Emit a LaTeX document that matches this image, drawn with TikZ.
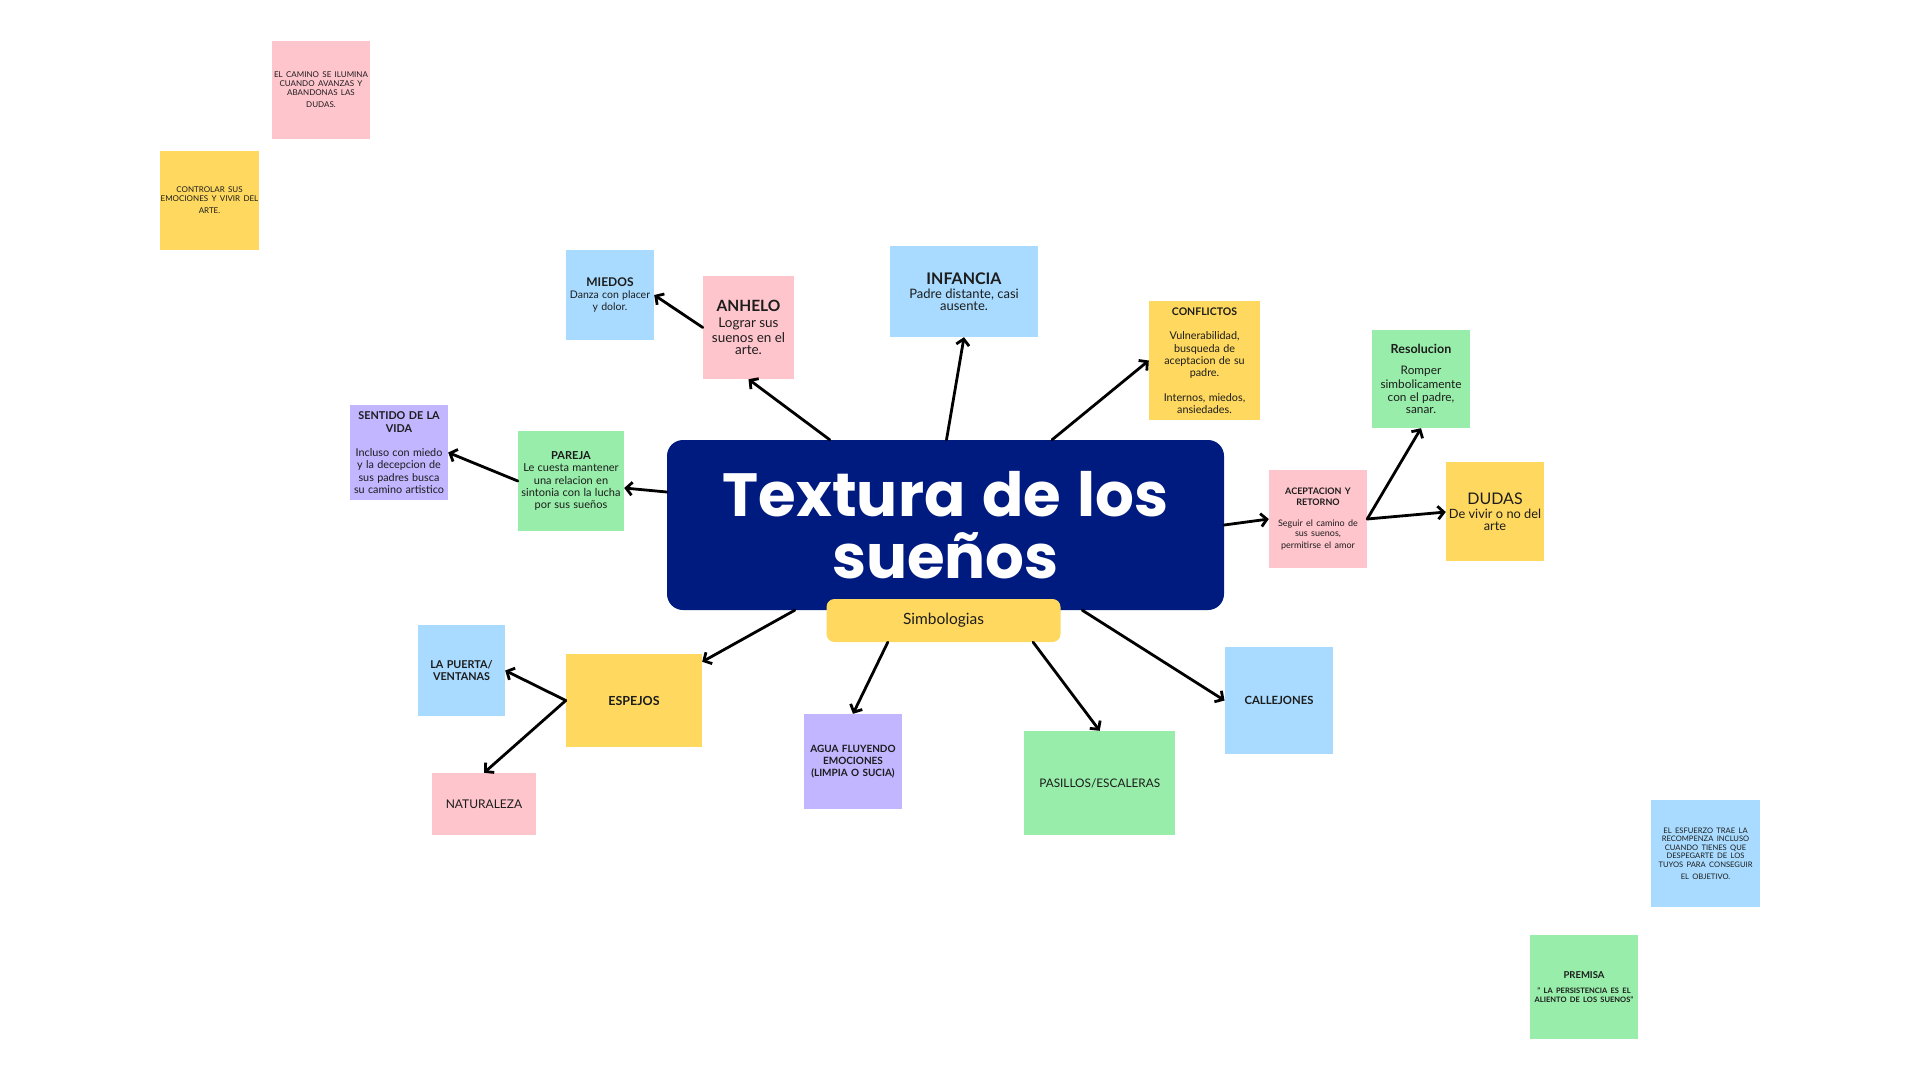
\documentclass[tikz,border=0pt]{standalone}
\usepackage{fontspec}
\setmainfont{Lato}
\newfontfamily\titlefont{Poppins}
\usetikzlibrary{arrows.meta}
\definecolor{cpink}{HTML}{FFC5CD}
\definecolor{cyellow}{HTML}{FFD95F}
\definecolor{cblue}{HTML}{A8DBFF}
\definecolor{cgreen}{HTML}{97EDA9}
\definecolor{cpurple}{HTML}{C1B6FF}
\definecolor{cnavy}{HTML}{001B80}
\definecolor{ctext}{HTML}{1C1C1C}
\newcommand\fs[2]{\fontsize{#1}{#2}\selectfont}
\newcommand\tsp{\hspace{0.27em}}
\tikzset{
  note/.style={inner sep=0pt, align=center, text=ctext},
  bx/.style n args={2}{note, minimum width=#1pt, minimum height=#2pt, text width=#1pt},
  titletext/.style={inner sep=0pt, anchor=base, text=white, font=\titlefont\bfseries\fs{61}{62}},
  conn/.style={line width=2.8pt, -{Straight Barb[length=6pt,width=13pt]}, line cap=round}
}
\begin{document}
\begin{tikzpicture}[x=1pt,y=-1pt]
\useasboundingbox[fill=white] (0,0) rectangle (1920,1080);

% free notes
\node[bx={98}{98}, fill=cpink] (camino) at (321,90) {\fs{8}{9}EL CAMINO SE ILUMINA\\CUANDO AVANZAS Y\\ABANDONAS LAS\\DUDAS.};
\node[bx={99}{99}, fill=cyellow] (controlar) at (209.5,200.5) {\fs{8}{9}CONTROLAR SUS\\EMOCIONES Y VIVIR DEL\\ARTE.};
\node[bx={109}{107}, fill=cblue] (esfuerzo) at (1705.5,853.5) {\fs{7.6}{8.5}EL ESFUERZO TRAE LA\\RECOMPENZA INCLUSO\\CUANDO TIENES QUE\\DESPEGARTE DE LOS\\TUYOS PARA CONSEGUIR\\EL OBJETIVO.};
\node[bx={108}{104}, fill=cgreen] (premisa) at (1584,987) {{\bfseries\fs{9.5}{11}PREMISA\par}\vspace{7pt}{\bfseries\fs{7.5}{8.6}" LA PERSISTENCIA ES EL\\ALIENTO DE LOS SUENOS"\par}};

% main
\node[fill=cnavy, rounded corners=16pt, minimum width=557pt, minimum height=170pt, inner sep=0pt] (main) at (945.5,525) {};
\node[titletext] (title1) at ([yshift=9pt]main.center) {Textura\tsp de\tsp los};
\node[titletext] (title2) at ([yshift=-53pt]main.center) {sueños};
\node[bx={234}{43}, fill=cyellow, rounded corners=8pt] (simb) at (943.5,620.5) {\fs{15.5}{17}Simbologias};

% upper branch
\node[bx={88}{90}, fill=cblue] (miedos) at (610,295) {{\bfseries\fs{12}{14}MIEDOS\par}\fs{10.5}{12}Danza con placer\\y dolor.};
\node[bx={91}{103}, fill=cpink] (anhelo) at (748.5,327.5) {{\bfseries\fs{15.5}{17}ANHELO\par}\fs{13.5}{15.5}Lograr sus\\suenos en el\\arte.};
\node[bx={148}{91}, fill=cblue] (infancia) at (964,291.5) {{\bfseries\fs{16}{18}INFANCIA\par}\fs{13}{14.5}Padre distante, casi\\ausente.};
\node[bx={111}{119}, fill=cyellow] (conflictos) at (1204.5,360.5) {{\bfseries\fs{10.5}{12.3}CONFLICTOS\par}\vspace{12pt}\fs{10.8}{12.3}Vulnerabilidad,\\busqueda de\\aceptacion de su\\padre.\\[12.3pt]Internos, miedos,\\ansiedades.};
\node[bx={98}{95}, fill=cpurple] (sentido) at (399,452.5) {{\bfseries\fs{10.8}{12.3}SENTIDO DE LA\\VIDA\par}\vspace{12pt}\fs{10.8}{12.3}Incluso con miedo\\y la decepcion de\\sus padres busca\\su camino artistico};
\node[bx={106}{100}, fill=cgreen] (pareja) at (571,481) {{\bfseries\fs{11}{12.7}PAREJA\par}\fs{11}{12.5}Le cuesta mantener\\una relacion en\\sintonia con la lucha\\por sus sueños};

% right branch
\node[bx={98}{98}, fill=cpink] (acept) at (1318,519) {{\bfseries\fs{9}{10.5}ACEPTACION Y\\RETORNO\par}\vspace{11pt}\fs{9}{10}Seguir el camino de\\sus suenos,\\permitirse el amor};
\node[bx={98}{98}, fill=cgreen] (resol) at (1421,379) {{\bfseries\fs{12.5}{14}Resolucion\par}\vspace{8pt}\fs{11.8}{13.3}Romper\\simbolicamente\\con el padre,\\sanar.};
\node[bx={98}{99}, fill=cyellow] (dudas) at (1495,511.5) {{\fs{16}{17}DUDAS\par}\fs{12.8}{14.3}De vivir o no del\\arte};

% lower branch
\node[bx={136}{93}, fill=cyellow] (espejos) at (634,700.5) {\bfseries\fs{12.5}{14}ESPEJOS};
\node[bx={87}{91}, fill=cblue] (puerta) at (461.5,670.5) {\bfseries\fs{10.8}{11.7}LA PUERTA/\\VENTANAS};
\node[bx={104}{62}, fill=cpink] (natur) at (484,804) {\fs{12}{14}NATURALEZA};
\node[bx={98}{95}, fill=cpurple] (agua) at (853,761.5) {\bfseries\fs{10}{12}AGUA FLUYENDO\\EMOCIONES\\(LIMPIA O SUCIA)};
\node[bx={151.5}{104}, fill=cgreen] (pasillos) at (1099.7,783) {\fs{11.8}{14}PASILLOS/ESCALERAS};
\node[bx={108.5}{107}, fill=cblue] (callejones) at (1279,700.5) {\bfseries\fs{11.3}{13}CALLEJONES};

% connectors
\draw[conn] ([xshift=163pt]main.north west) -- (anhelo.south);
\draw[conn] (anhelo.west) -- (miedos.east);
\draw[conn] ([xshift=1pt]main.north) -- (infancia.south);
\draw[conn] ([xshift=106.5pt]main.north) -- (conflictos.west);
\draw[conn] (main.east) -- (acept.west);
\draw[conn] (acept.east) -- (resol.south);
\draw[conn] (acept.east) -- ([yshift=-0.5pt]dudas.west);
\draw[conn] ([yshift=33pt]main.west) -- ([yshift=-7pt]pareja.east);
\draw[conn] (pareja.west) -- (sentido.east);
\draw[conn] ([xshift=128pt]main.south west) -- ([yshift=-8pt]espejos.north east);
\draw[conn] (espejos.west) -- (puerta.east);
\draw[conn] (espejos.west) -- (natur.north);
\draw[conn] ([xshift=61.5pt]simb.south west) -- (agua.north);
\draw[conn] ([xshift=-27.6pt]simb.south east) -- (pasillos.north);
\draw[conn] ([xshift=-142pt]main.south east) -- (callejones.west);
\end{tikzpicture}
\end{document}
